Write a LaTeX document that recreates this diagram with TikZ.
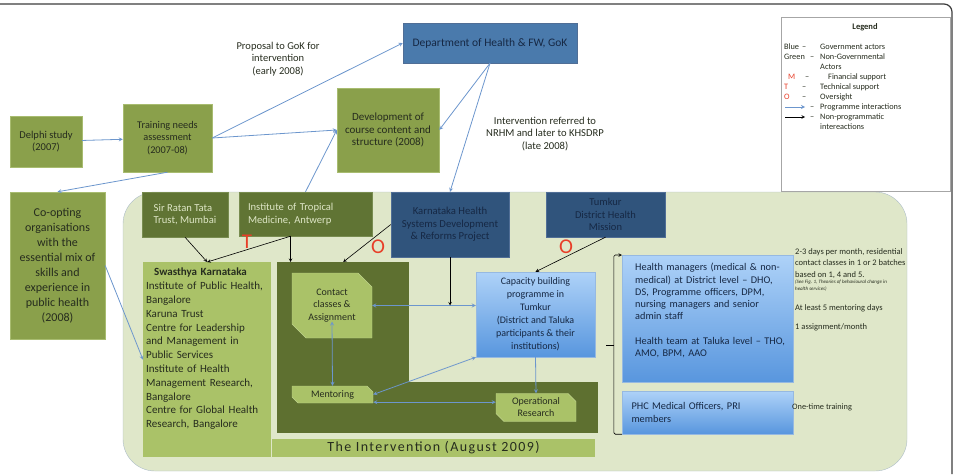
\documentclass[tikz,border=0pt]{standalone}
\usepackage{fontspec}
\setmainfont{Carlito}
\newfontfamily\spacedfont[LetterSpace=10]{Carlito}
\usetikzlibrary{arrows,shapes,shapes.misc,positioning,calc}

\definecolor{greenfill}{RGB}{138,160,75}
\definecolor{greenedge}{RGB}{168,188,112}
\definecolor{olivefill}{RGB}{96,116,52}
\definecolor{oliveedge}{RGB}{120,140,80}
\definecolor{olivetext}{RGB}{222,230,198}
\definecolor{darkolive}{RGB}{94,112,48}
\definecolor{lightfill}{RGB}{170,194,104}
\definecolor{lightedge}{RGB}{190,210,140}
\definecolor{regionfill}{RGB}{223,231,201}
\definecolor{regionedge}{RGB}{172,188,200}
\definecolor{deptfill}{RGB}{74,122,172}
\definecolor{navyfill}{RGB}{48,84,124}
\definecolor{navyedge}{RGB}{80,110,150}
\definecolor{navytext}{RGB}{22,40,68}
\definecolor{bluetop}{RGB}{174,210,248}
\definecolor{bluebot}{RGB}{88,150,222}
\definecolor{blueedge}{RGB}{150,185,225}
\definecolor{progblue}{RGB}{108,150,205}
\definecolor{textdark}{RGB}{38,44,30}
\definecolor{markred}{RGB}{232,62,40}
\definecolor{framegray}{RGB}{60,60,60}

\begin{document}
\begin{tikzpicture}[
    x=1pt,y=-1pt,
    greenbox/.style={rectangle,draw=greenedge,fill=greenfill,align=center,font=\fontsize{10.5}{12.5}\selectfont,text=textdark},
    olivebox/.style={rectangle,draw=oliveedge,fill=olivefill,align=left,font=\fontsize{10.6}{12.7}\selectfont,text=olivetext},
    navybox/.style={rectangle,draw=navyedge,fill=navyfill,align=center,font=\fontsize{10.5}{12.5}\selectfont,text=navytext},
    lightbox/.style={rectangle,fill=lightfill,draw=none},
    darkbox/.style={rectangle,fill=darkolive,draw=none,anchor=north west},
    snipbox/.style={chamfered rectangle,fill=lightfill,draw=lightedge,align=center,font=\fontsize{10}{12.3}\selectfont,text=textdark,inner sep=0.5pt},
    bluebox/.style={rectangle,draw=blueedge,top color=bluetop,bottom color=bluebot,align=center,font=\fontsize{10}{13}\selectfont,text=navytext},
    note/.style={align=left,inner sep=0pt,font=\fontsize{8.5}{11.7}\selectfont,text=textdark},
    caption/.style={align=center,font=\fontsize{10.5}{12.5}\selectfont,text=textdark},
    redmark/.style={font=\fontsize{21}{21}\selectfont,text=markred,inner sep=0pt},
    progarrow/.style={->,>=stealth,draw=progblue,line width=0.8pt},
    twoway/.style={progarrow,<->},
    plainarrow/.style={->,>=stealth,draw=black,line width=0.6pt}
]
    \useasboundingbox (0,0) rectangle (957,474);
    \draw[framegray,line width=1.2pt,rounded corners=8pt] (0,4) -- (952,4) -- (952,474);

    % background of the intervention
    \node[rectangle,draw=regionedge,fill=regionfill,rounded corners=32pt,minimum width=784,minimum height=279] (region) at (515,331.5) {};

    % upper chain
    \node[greenbox,minimum width=72,minimum height=51] (delphi) at (46,141.5) {Delphi study\\(2007)};
    \node[greenbox,minimum width=89,minimum height=68,font=\fontsize{10.3}{12.3}\selectfont] (tna) at (167.5,138) {Training needs\\assessment\\(2007-08)};
    \node[greenbox,minimum width=102,minimum height=84,font=\fontsize{11}{12.5}\selectfont] (course) at (388,130) {Development of\\course content and\\structure (2008)};
    \node[rectangle,draw=navyedge,fill=deptfill,minimum width=174,minimum height=40,font=\fontsize{11.5}{13}\selectfont,text=navytext] (dept) at (490,43) {Department of Health \& FW, GoK};
    \node[greenbox,minimum width=95,minimum height=147,font=\fontsize{12}{15}\selectfont] (coopt) at (57.5,265.5) {Co-opting\\organisations\\with the\\essential mix of\\skills and\\experience in\\public health\\(2008)};

    \node[caption] (proposal) at (278,59) {Proposal to GoK for\\intervention\\(early 2008)};
    \node[caption,font=\fontsize{10.6}{12.5}\selectfont] (referred) at (545,134) {Intervention referred to\\NRHM and later to KHSDRP\\(late 2008)};

    % actors at the top of the intervention
    \node[olivebox,minimum width=86,minimum height=45] (tata) at (185,214.5) {Sir Ratan Tata\\Trust, Mumbai};
    \node[olivebox,minimum width=133,minimum height=44,text width=115pt] (itm) at (305.5,214) {Institute of Tropical\\Medicine, Antwerp};
    \node[navybox,minimum width=118,minimum height=65,font=\fontsize{10.7}{12.5}\selectfont] (khsdrp) at (450,224.5) {Karnataka Health\\Systems Development\\\& Reforms Project};
    \node[navybox,minimum width=119,minimum height=45] (tumkur) at (605.5,214.5) {Tumkur\\District Health\\Mission};

    % Swasthya Karnataka
    \node[lightbox,minimum width=128,minimum height=195,anchor=north west] (swasthya) at (143,262) {};
    \node[anchor=north west,text width=126pt,align=left,inner sep=0pt,font=\fontsize{11}{13.8}\selectfont,text=textdark] (swtext) at (146,268) {\hspace*{8pt}\textbf{Swasthya Karnataka}\\Institute of Public Health,\\Bangalore\\Karuna Trust\\Centre for Leadership\\and Management in\\Public Services\\Institute of Health\\Management Research,\\Bangalore\\Centre for Global Health\\Research, Bangalore};

    % the intervention
    \node[darkbox,minimum width=132,minimum height=171] (interv) at (277,262) {};
    \node[darkbox,minimum width=189,minimum height=51] (intervb) at (409,382) {};
    \node[lightbox,minimum width=323,minimum height=18,inner sep=0pt,font=\spacedfont\fontsize{14}{15}\selectfont,text=textdark] (interbar) at (433.5,448) {The Intervention (August 2009)};

    \node[snipbox,minimum width=80,minimum height=65,chamfered rectangle corners={north east,south west},chamfered rectangle xsep=7pt,chamfered rectangle ysep=7pt] (contact) at (332,305.5) {Contact\\classes \&\\Assignment};
    \node[snipbox,minimum width=81,minimum height=17,chamfered rectangle corners={north east,south west},chamfered rectangle xsep=3pt,chamfered rectangle ysep=3pt] (mentor) at (332.5,394.5) {Mentoring};
    \node[snipbox,minimum width=80,minimum height=27,chamfered rectangle corners={north east,south west},chamfered rectangle xsep=4pt,chamfered rectangle ysep=4pt,font=\fontsize{10}{12}\selectfont] (opres) at (536,407.5) {Operational\\Research};
    \node[bluebox,minimum width=119,minimum height=85] (capacity) at (535.5,314.5) {Capacity building\\programme in\\Tumkur\\(District and Taluka\\participants \& their\\institutions)};

    % participants
    \node[bluebox,minimum width=171,minimum height=127,anchor=north west] (managers) at (622,255) {};
    \node[anchor=north west,text width=158pt,align=left,inner sep=0pt,font=\fontsize{10.3}{12.3}\selectfont,text=navytext] (mgtext) at (635,263) {Health managers (medical \& non-\\medical) at District level – DHO,\\DS, Programme officers, DPM,\\nursing managers and senior\\admin staff\\[12.3pt]Health team at Taluka level – THO,\\AMO, BPM, AAO};
    \node[bluebox,minimum width=171,minimum height=43,text width=152pt,align=left,font=\fontsize{10.3}{12.3}\selectfont] (phc) at (707.5,412.5) {PHC Medical Officers, PRI\\members};

    \node[note,anchor=north west] (notes) at (795,248) {2-3 days per month, residential\\contact classes in 1 or 2 batches\\based on 1, 4 and 5.};
    \node[note,anchor=north west,font=\fontsize{5}{6.5}\selectfont\itshape] (seefig) at ([yshift=-1pt]notes.south west) {(See Fig. 1, Theories of behavioural change in\\health services)};
    \node[note,anchor=west] (mentordays) at (795,308) {At least 5 mentoring days};
    \node[note,anchor=west] (assignment) at (795,327) {1 assignment/month};
    \node[note,anchor=west,font=\fontsize{8.3}{10}\selectfont] (onetime) at (792,407) {One-time training};

    % legend
    \node[rectangle,draw=gray!70,fill=white,minimum width=169,minimum height=174,anchor=north west] (legend) at (781,17) {};
    \node[font=\bfseries\fontsize{8.5}{10}\selectfont,text=textdark] (legendtitle) at (865,27) {Legend};
    \node[anchor=north west,inner sep=0pt,align=left,font=\fontsize{8.3}{10}\selectfont,text=textdark] (legendtext) at (784,43.5) {%
        \makebox[18pt][l]{Blue}\makebox[18pt][l]{–}Government actors\\
        \makebox[26pt][l]{Green}\makebox[10pt][l]{–}Non-Governmental\\
        \hspace*{36pt}Actors\\
        \hspace*{4pt}\makebox[17pt][l]{\textcolor{markred}{M}}\makebox[23pt][l]{–}Financial support\\
        \makebox[18pt][l]{\textcolor{markred}{T}}\makebox[18pt][l]{–}Technical support\\
        \makebox[18pt][l]{\textcolor{markred}{O}}\makebox[18pt][l]{–}Oversight\\
        \hspace*{26pt}\makebox[10pt][l]{–}Programme interactions\\
        \hspace*{26pt}\makebox[10pt][l]{–}Non-programmatic\\
        \hspace*{36pt}intereactions};
    \coordinate (legprog) at (785,107);
    \coordinate (legplain) at (785,117);
    \draw[progarrow] (legprog) -- ++(20,0);
    \draw[plainarrow] (legplain) -- ++(20,0);

    % oversight and support marks
    \node[redmark] (tmark) at (247,242) {T};
    \node[redmark] (omarkk) at (378,247) {O};
    \node[redmark] (omarkt) at (566,247) {O};

    % programme interactions
    \coordinate (mentorlow) at ([yshift=1pt]mentor.south east);
    \draw[progarrow] (delphi) -- (tna);
    \draw[progarrow] (tna.east) -- (dept.west);
    \draw[progarrow] (tna.east) -- (course.west);
    \draw[progarrow] (tna.south) -- (coopt.north);
    \draw[progarrow] (itm.north) -- (course.west);
    \draw[progarrow] (dept.south) -- (course.east);
    \draw[progarrow] (dept.south) -- (khsdrp.north);
    \draw[progarrow] (coopt.east) -- (swasthya.west);
    \draw[twoway] (contact.east) -- (capacity.west |- contact.east);
    \draw[twoway] ([yshift=-16pt]contact.center) -- (mentor.north);
    \draw[twoway] (mentor.east) -- (capacity.south west);
    \draw[twoway] (mentorlow) -- (opres.west |- mentorlow);
    \draw[progarrow] (capacity.south) -- (opres.north);

    % non-programmatic interactions
    \draw[plainarrow] (tata.south) -- (swasthya.north);
    \draw[plainarrow] ([xshift=-15pt]itm.south) -- (swasthya.north);
    \draw[plainarrow] ([xshift=-15pt]itm.south) -- ([xshift=-15pt]itm.south |- interv.north);
    \draw[plainarrow] (khsdrp.west) -- (interv.north);
    \draw[plainarrow] (khsdrp.south) -- (khsdrp.south |- contact.east);
    \draw[plainarrow] (tumkur.south) -- (capacity.north);

    % brace over the participants
    \coordinate (bracetip) at (606,345);
    \draw[plainarrow,rounded corners=1.5pt] (phc.south west) -- ++(-8,0) |- (managers.north west);
    \draw[black,line width=0.6pt] (bracetip) -- ++(8,0);
\end{tikzpicture}
\end{document}
